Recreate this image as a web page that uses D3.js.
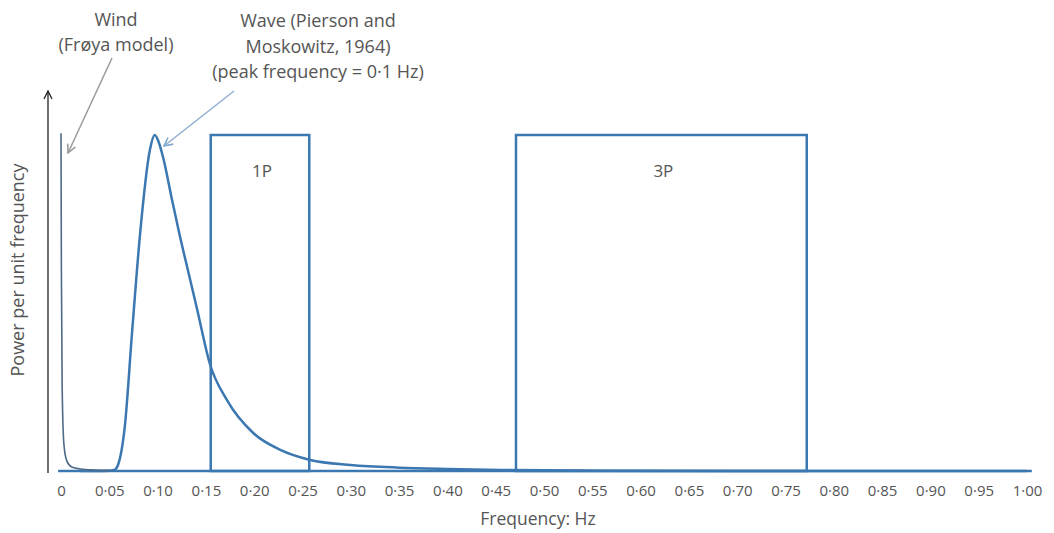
<!DOCTYPE html>
<html><head><meta charset="utf-8">
<script src="https://cdn.jsdelivr.net/npm/d3@7"></script>
<style>
body{margin:0;background:#fff;}
svg{display:block;font-family:"Open Sans","Noto Sans",sans-serif;}
</style></head>
<body>
<svg id="chart" width="1054" height="533"></svg>
<script>
// ---- data ----
const tickValues = [0,0.05,0.10,0.15,0.20,0.25,0.30,0.35,0.40,0.45,0.50,0.55,0.60,0.65,0.70,0.75,0.80,0.85,0.90,0.95,1.00];
const tickLabels = ["0","0·05","0·10","0·15","0·20","0·25","0·30","0·35","0·40","0·45","0·50","0·55","0·60","0·65","0·70","0·75","0·80","0·85","0·90","0·95","1·00"];

const waveFreq  = [0.02,0.045,0.055,0.059,0.066,0.0735,0.082,0.092,0.097,0.101,0.106,0.114,0.123,0.132,0.141,0.154,0.172,0.199,0.227,0.258,0.30,0.35,0.40,0.455,0.56,0.70,1.00];
const wavePower = [0.0,0.0,0.003,0.018,0.131,0.41,0.71,0.955,1.0,0.98,0.93,0.82,0.70,0.59,0.48,0.32,0.21,0.113,0.063,0.033,0.018,0.010,0.006,0.003,0.001,0.0,0.0];

const windFreq  = [0.0,0.0004,0.0012,0.003,0.006,0.011,0.02,0.035,0.05];
const windPower = [1.005,0.6,0.25,0.08,0.03,0.012,0.006,0.003,0.002];

const bandNames = ["1P","3P"];
const bandStart = [0.155,0.471];
const bandEnd   = [0.257,0.772];
const bandTop   = [1.0,1.0];

const xTitle = "Frequency: Hz";
const yTitle = "Power per unit frequency";

// ---- drawing ----
const svg = d3.select("#chart");
const blue = "#3b77b0";
const textCol = "#555555";

const x = d3.scaleLinear().domain([0,1]).range([61,1027]);
const y = d3.scaleLinear().domain([0,1]).range([471,135]);

const defs = svg.append("defs");
defs.append("marker")
  .attr("id","arrGray").attr("viewBox","0 0 10 10").attr("refX",9).attr("refY",5)
  .attr("markerWidth",7).attr("markerHeight",7).attr("orient","auto")
  .append("path").attr("d","M1,1 L9,5 L1,9").attr("fill","none").attr("stroke","#9a9a9a").attr("stroke-width",1.5);
defs.append("marker")
  .attr("id","arrBlue").attr("viewBox","0 0 10 10").attr("refX",9).attr("refY",5)
  .attr("markerWidth",7).attr("markerHeight",7).attr("orient","auto")
  .append("path").attr("d","M1,1 L9,5 L1,9").attr("fill","none").attr("stroke","#7ea6cf").attr("stroke-width",1.5);

// x axis
const xAxis = d3.axisBottom(x).tickValues(tickValues)
  .tickFormat((d,i)=>tickLabels[i]).tickSize(0).tickPadding(14);
const gx = svg.append("g").attr("transform",`translate(0,${y(0)})`).call(xAxis);
gx.select(".domain").remove();
gx.selectAll("text").attr("fill",textCol).style("font-size","15px").style("font-family","'Open Sans',sans-serif");
svg.append("line").attr("x1",x(-0.003)).attr("x2",x(1.005)).attr("y1",y(0)).attr("y2",y(0))
  .attr("stroke",blue).attr("stroke-width",2.5);

// y axis with arrow
const yAxisX = 48;
svg.append("line").attr("x1",yAxisX).attr("x2",yAxisX).attr("y1",y(0)+2).attr("y2",91)
  .attr("stroke","#222").attr("stroke-width",1.3);
svg.append("path").attr("d",`M${yAxisX-4},${99} L${yAxisX},${91} L${yAxisX+4},${99}`)
  .attr("fill","none").attr("stroke","#222").attr("stroke-width",1.3);

// bands
bandNames.forEach((n,i)=>{
  svg.append("rect").attr("x",x(bandStart[i])).attr("y",y(bandTop[i]))
    .attr("width",x(bandEnd[i])-x(bandStart[i])).attr("height",y(0)-y(bandTop[i]))
    .attr("fill","none").attr("stroke",blue).attr("stroke-width",2.5);
  svg.append("text").attr("x",(x(bandStart[i])+x(bandEnd[i]))/2+2).attr("y",y(bandTop[i])+42)
    .attr("text-anchor","middle").attr("fill",textCol).style("font-size","17px").text(n);
});

// wave curve
const line = d3.line().x(d=>x(d[0])).y(d=>y(d[1])).curve(d3.curveMonotoneX);
svg.append("path").datum(waveFreq.map((f,i)=>[f,wavePower[i]]))
  .attr("d",line).attr("fill","none").attr("stroke",blue).attr("stroke-width",2.5);

// wind curve
svg.append("path").datum(windFreq.map((f,i)=>[f,windPower[i]]))
  .attr("d",line).attr("fill","none").attr("stroke","#4d6a86").attr("stroke-width",1.6);

// annotations
const ann = svg.append("g").attr("fill",textCol).style("font-size","18px").attr("text-anchor","middle");
ann.append("text").attr("x",116).attr("y",26).text("Wind");
ann.append("text").attr("x",116).attr("y",51).text("(Frøya model)");
ann.append("text").attr("x",318).attr("y",27).text("Wave (Pierson and");
ann.append("text").attr("x",318).attr("y",53).text("Moskowitz, 1964)");
ann.append("text").attr("x",318).attr("y",78).text("(peak frequency = 0·1 Hz)");

svg.append("line").attr("x1",112).attr("y1",58).attr("x2",68).attr("y2",153)
  .attr("stroke","#9a9a9a").attr("stroke-width",1.5).attr("marker-end","url(#arrGray)");
svg.append("line").attr("x1",234).attr("y1",91).attr("x2",164).attr("y2",146)
  .attr("stroke","#8eaed0").attr("stroke-width",1.5).attr("marker-end","url(#arrBlue)");

// axis titles
svg.append("text").attr("x",538).attr("y",525).attr("text-anchor","middle")
  .attr("fill",textCol).style("font-size","17.5px").text(xTitle);
svg.append("text").attr("transform","translate(24,270) rotate(-90)").attr("text-anchor","middle")
  .attr("fill",textCol).style("font-size","18px").text(yTitle);
</script>
</body></html>
